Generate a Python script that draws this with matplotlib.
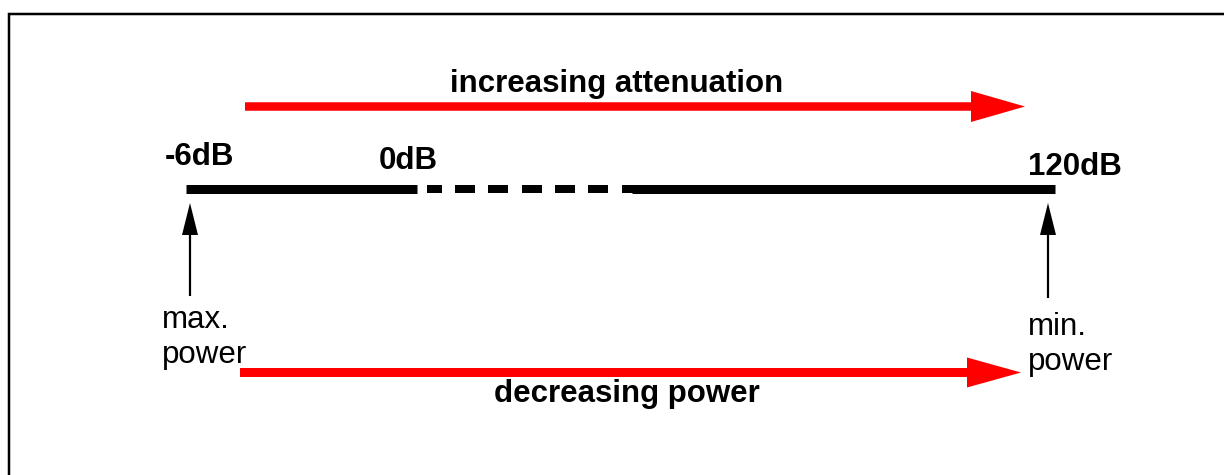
import matplotlib
matplotlib.use("Agg")
import matplotlib.pyplot as plt
from matplotlib.patches import FancyArrow

# labels of the attenuation scale
level_labels = ["-6dB", "0dB", "120dB"]
level_label_pos = [(165, 165), (379, 169), (1028, 175)]

top_caption = "increasing attenuation"
bottom_caption = "decreasing power"
end_labels = [["max.", "power"], ["min.", "power"]]

# segments of the scale line (pixel coords of the drawing)
solid_parts = [(186, 417), (632, 1055)]
dash_parts = [(427, 442), (455, 475), (488, 508), (522, 542),
              (555, 575), (588, 608), (622, 637)]

W, H = 1224, 475
fig = plt.figure(figsize=(W / 100, H / 100), dpi=100)
ax = fig.add_axes([0, 0, 1, 1])
ax.set_xlim(0, W)
ax.set_ylim(H, 0)
ax.axis('off')

PX = 72 / 100  # points per pixel
font = dict(family=['Liberation Sans', 'DejaVu Sans'], fontsize=22.5)

# frame (only top and left edges show)
ax.plot([9, 9, W + 10], [H + 10, 14, 14], color='black', lw=2.5 * PX,
        solid_joinstyle='miter')

# scale line
for x0, x1 in solid_parts:
    ax.plot([x0, x1], [188.5, 188.5], color='black', lw=9 * PX,
            solid_capstyle='butt')
for x0, x1 in dash_parts:
    ax.plot([x0, x1], [188.5, 188.5], color='black', lw=8 * PX,
            solid_capstyle='butt')

# red arrows
ax.add_patch(FancyArrow(245, 106.5, 1025 - 245, 0, width=8.5, head_width=31,
                        head_length=54, length_includes_head=True,
                        color='#ff0000', lw=0))
ax.add_patch(FancyArrow(240, 372.5, 1021 - 240, 0, width=9, head_width=30,
                        head_length=54, length_includes_head=True,
                        color='#ff0000', lw=0))

# black pointer arrows
for x, y0 in [(190, 296), (1048, 298)]:
    ax.add_patch(FancyArrow(x, y0, 0, 203 - y0, width=2.2, head_width=16,
                            head_length=32, length_includes_head=True,
                            color='black', lw=0))

# texts
for lab, (x, y) in zip(level_labels, level_label_pos):
    ax.text(x, y, lab, ha='left', va='baseline', fontweight='bold', **font)

ax.text(617, 92, top_caption, ha='center', va='baseline',
        fontweight='bold', **font)
ax.text(627, 402, bottom_caption, ha='center', va='baseline',
        fontweight='bold', **font)

for lines, (x, y) in zip(end_labels, [(162, 328), (1028, 335)]):
    for i, line in enumerate(lines):
        ax.text(x, y + 35 * i, line, ha='left', va='baseline', **font)

plt.savefig("out.png", dpi=100)
